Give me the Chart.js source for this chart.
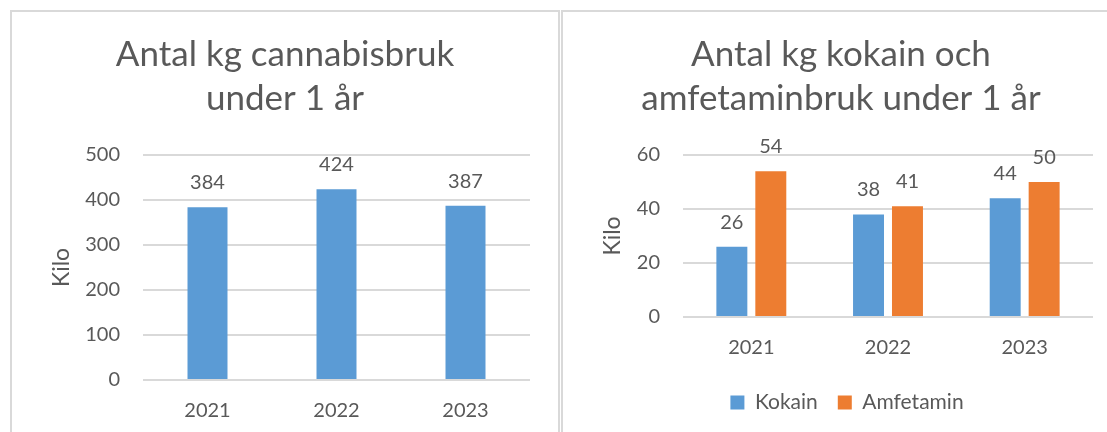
<!DOCTYPE html>
<html>
<head>
<meta charset="utf-8">
<script src="https://cdn.jsdelivr.net/npm/chart.js@4.4.1/dist/chart.umd.min.js"></script>
<style>
  body { margin: 0; overflow: hidden; background: #fff; }
  .frame { position: absolute; border: 2px solid #d9d9d9; box-sizing: border-box; }
  .wrap { position: absolute; }
</style>
</head>
<body>
<div class="frame" style="left:10px;top:10px;width:550px;height:460px"></div>
<div class="frame" style="left:561px;top:10px;width:580px;height:460px"></div>
<div class="wrap" style="left:12px;top:12px;width:546px;height:420px"><canvas id="chartLeft"></canvas></div>
<div class="wrap" style="left:563px;top:12px;width:556px;height:420px"><canvas id="chartRight"></canvas></div>
<script>
// ─── DATA ───────────────────────────────────────────────────────────────────────
var years = ['2021', '2022', '2023'];
var cannabis = [384, 424, 387];
var kokain = [26, 38, 44];
var amfetamin = [54, 41, 50];
var titleLeft = ['Antal kg cannabisbruk', 'under 1 år'];
var titleRight = ['Antal kg kokain och', 'amfetaminbruk under 1 år'];
var axisTitle = 'Kilo';

var BLUE = '#5B9BD5';
var ORANGE = '#ED7D31';
var TEXT = '#595959';
var GRID = '#D9D9D9';
var FONT = 'Lato';

// draws the value above each bar
var valueLabels = {
    id: 'valueLabels',
    afterDatasetsDraw: function (chart) {
        var ctx = chart.ctx;
        ctx.save();
        ctx.font = '20px ' + FONT;
        ctx.fillStyle = TEXT;
        ctx.textAlign = 'center';
        ctx.textBaseline = 'alphabetic';
        chart.data.datasets.forEach(function (ds, i) {
            chart.getDatasetMeta(i).data.forEach(function (bar, j) {
                ctx.fillText(ds.data[j], bar.x, bar.y - 18);
            });
        });
        ctx.restore();
    }
};

// center the title on the whole canvas, nudge the legend right a bit
var boxNudge = {
    id: 'boxNudge',
    afterLayout: function (chart) {
        if (chart.titleBlock) {
            chart.titleBlock.left = 0;
            chart.titleBlock.right = chart.width;
        }
        if (chart.legend && chart.options.plugins.legend.display) {
            chart.legend.left += 19;
            chart.legend.right += 19;
        }
    }
};

function buildOptions(title, yMax, yStep, yWidth, xHeight, padRight, padBottom, showLegend) {
    return {
        responsive: true,
        maintainAspectRatio: false,
        animation: false,
        layout: { padding: { left: 0, right: padRight, top: 0, bottom: padBottom } },
        plugins: {
            title: {
                display: true,
                text: title,
                color: TEXT,
                font: { family: FONT, size: 35, weight: 'normal', lineHeight: 1.257 },
                padding: { top: 20.5, bottom: 34.5 }
            },
            legend: {
                display: showLegend,
                position: 'bottom',
                labels: {
                    color: TEXT,
                    font: { family: FONT, size: 21 },
                    boxWidth: 14,
                    boxHeight: 14,
                    padding: 20
                }
            },
            tooltip: { enabled: false }
        },
        scales: {
            x: {
                grid: { display: false, drawTicks: false },
                border: { display: false },
                ticks: { color: TEXT, font: { family: FONT, size: 20 }, padding: 19 },
                afterFit: function (s) { s.height = xHeight; }
            },
            y: {
                min: 0,
                max: yMax,
                grid: { color: GRID, lineWidth: 2, drawTicks: false },
                border: { display: false },
                ticks: { stepSize: yStep, color: TEXT, font: { family: FONT, size: 20 }, padding: 23 },
                title: {
                    display: true,
                    text: axisTitle,
                    color: TEXT,
                    font: { family: FONT, size: 23 },
                    padding: { top: 36, bottom: 0 }
                },
                afterFit: function (s) { s.width = yWidth; }
            }
        }
    };
}

new Chart(document.getElementById('chartLeft'), {
    type: 'bar',
    data: {
        labels: years,
        datasets: [{
            label: 'Cannabis',
            data: cannabis,
            backgroundColor: BLUE,
            categoryPercentage: 1,
            barPercentage: 0.31
        }]
    },
    options: buildOptions(titleLeft, 500, 100, 131, 52, 28, 0, false),
    plugins: [valueLabels, boxNudge]
});

new Chart(document.getElementById('chartRight'), {
    type: 'bar',
    data: {
        labels: years,
        datasets: [{
            label: 'Kokain',
            data: kokain,
            backgroundColor: BLUE,
            categoryPercentage: 0.57,
            barPercentage: 0.795
        }, {
            label: 'Amfetamin',
            data: amfetamin,
            backgroundColor: ORANGE,
            categoryPercentage: 0.57,
            barPercentage: 0.795
        }]
    },
    options: buildOptions(titleRight, 60, 20, 120, 55, 26, 9, true),
    plugins: [valueLabels, boxNudge]
});
</script>
</body>
</html>
